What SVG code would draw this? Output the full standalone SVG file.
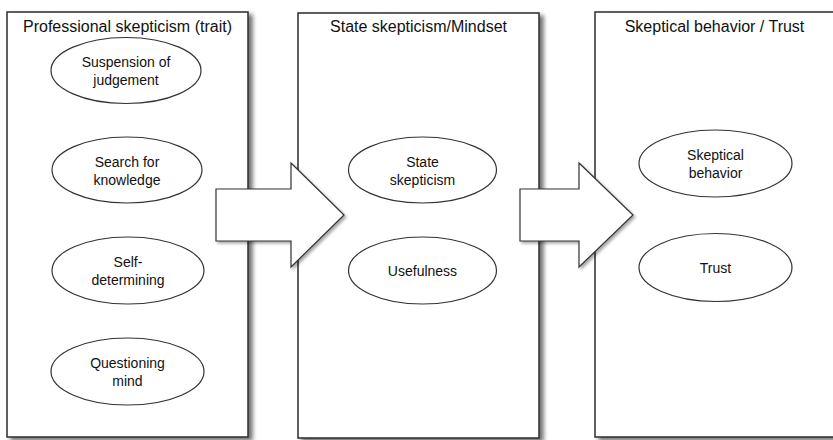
<svg xmlns="http://www.w3.org/2000/svg" width="833" height="440" viewBox="0 0 833 440">
<defs>
<filter id="sh" x="-10%" y="-10%" width="130%" height="130%">
<feDropShadow dx="4" dy="3" stdDeviation="2.2" flood-color="#000" flood-opacity="0.55"/>
</filter>
<filter id="sha" x="-10%" y="-10%" width="130%" height="130%">
<feDropShadow dx="2" dy="2" stdDeviation="1.5" flood-color="#000" flood-opacity="0.35"/>
</filter>
</defs>
<style>
.box{fill:#fff;stroke:#2b2b2b;stroke-width:1.5;filter:url(#sh)}
.ell{fill:#fff;stroke:#333;stroke-width:1.2}
.arr{fill:#fff;stroke:#333;stroke-width:1.2;stroke-linejoin:miter;filter:url(#sha)}
.title{font-family:"Liberation Sans",Arial,sans-serif;font-size:16px;fill:#111;text-anchor:middle}
.lbl{font-family:"Liberation Sans",Arial,sans-serif;font-size:14px;fill:#111;text-anchor:middle}
</style>
<rect width="833" height="440" fill="#fff"/>
<g id="box-trait">
<rect class="box" x="7" y="12" width="241" height="425"/>
<text class="title" x="127.5" y="32">Professional skepticism (trait)</text>
</g>
<g id="box-state">
<rect class="box" x="298" y="13" width="241" height="425"/>
<text class="title" x="418.5" y="32">State skepticism/Mindset</text>
</g>
<g id="box-behavior">
<rect class="box" x="595" y="12" width="240" height="425"/>
<text class="title" x="714.5" y="32">Skeptical behavior / Trust</text>
</g>
<g id="suspension">
<ellipse class="ell" cx="126" cy="70.5" rx="75" ry="33"/>
<text class="lbl" x="126" y="67">Suspension of</text>
<text class="lbl" x="126" y="85">judgement</text>
</g>
<g id="search">
<ellipse class="ell" cx="127" cy="170" rx="75" ry="33"/>
<text class="lbl" x="127" y="167">Search for</text>
<text class="lbl" x="127" y="185">knowledge</text>
</g>
<g id="self">
<ellipse class="ell" cx="128" cy="270.5" rx="76" ry="33.5"/>
<text class="lbl" x="128" y="267">Self-</text>
<text class="lbl" x="128" y="285">determining</text>
</g>
<g id="questioning">
<ellipse class="ell" cx="127.5" cy="371.5" rx="76.5" ry="33.5"/>
<text class="lbl" x="127.5" y="368">Questioning</text>
<text class="lbl" x="127.5" y="386">mind</text>
</g>
<g id="state">
<ellipse class="ell" cx="422.5" cy="170" rx="74" ry="33"/>
<text class="lbl" x="422.5" y="167">State</text>
<text class="lbl" x="422.5" y="185">skepticism</text>
</g>
<g id="usefulness">
<ellipse class="ell" cx="422.5" cy="270.5" rx="74" ry="33.5"/>
<text class="lbl" x="422.5" y="276">Usefulness</text>
</g>
<g id="skeptical">
<ellipse class="ell" cx="715.5" cy="163.5" rx="76.5" ry="33.5"/>
<text class="lbl" x="715.5" y="160">Skeptical</text>
<text class="lbl" x="715.5" y="178">behavior</text>
</g>
<g id="trust">
<ellipse class="ell" cx="715.5" cy="267.5" rx="76.5" ry="34"/>
<text class="lbl" x="715.5" y="273">Trust</text>
</g>
<g id="connectors">
<polygon class="arr" points="216,189 291,189 291,163 344,215 291,267 291,241 216,241"/>
<polygon class="arr" points="520,189 579,189 579,163 633,215 579,267 579,241 520,241"/>
</g>
</svg>
